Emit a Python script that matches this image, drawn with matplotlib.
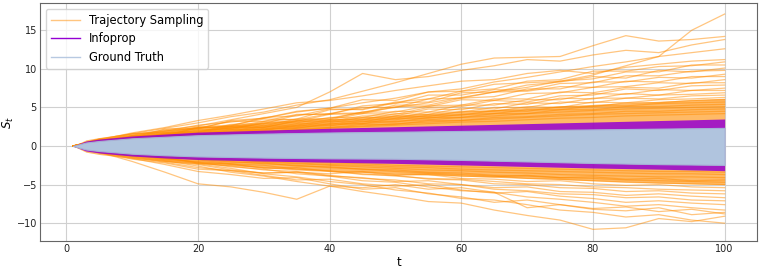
import matplotlib
matplotlib.use("Agg")
import matplotlib.pyplot as plt
import numpy as np

# time grid for the envelopes of the dense bands
t_env = [1, 3, 5, 10, 15, 20, 30, 40, 50, 60, 70, 80, 90, 100]

# ground truth band (edges)
gt_upper = [0, 0.45, 0.65, 1.0, 1.2, 1.4, 1.6, 1.75, 1.85, 1.95, 2.05, 2.15, 2.25, 2.35]
gt_lower = [0, -0.45, -0.65, -1.0, -1.2, -1.35, -1.5, -1.6, -1.65, -1.8, -2.0, -2.2, -2.35, -2.45]

# infoprop band, outer edges
ip_upper = [0, 0.65, 0.9, 1.3, 1.55, 1.8, 2.05, 2.3, 2.5, 2.7, 2.9, 3.1, 3.3, 3.5]
ip_lower = [0, -0.65, -0.9, -1.3, -1.55, -1.75, -1.95, -2.1, -2.25, -2.45, -2.65, -2.85, -3.0, -3.2]

# dense core of the trajectory sampling lines
ts_core_upper = [0, 0.8, 1.1, 1.7, 2.1, 2.5, 3.0, 3.5, 4.0, 4.5, 5.0, 5.4, 5.8, 6.2]
ts_core_lower = [0, -0.8, -1.1, -1.6, -2.0, -2.3, -2.8, -3.2, -3.6, -3.9, -4.2, -4.5, -4.8, -5.0]

# individual trajectory sampling lines
t_ts = [1, 5, 10, 15, 20, 25, 30, 35, 40, 45, 50, 55, 60, 65, 70, 75, 80, 85, 90, 95, 100]

ts_up = [
    [0, 0.5, 1.0, 1.6, 2.0, 2.3, 2.9, 3.3, 3.6, 4.4, 5.0, 5.6, 6.3, 7.0, 7.6, 8.4, 9.2, 10.4, 11.6, 15.0, 17.1],
    [0, 0.9, 1.6, 2.3, 3.0, 3.8, 4.4, 5.3, 6.0, 7.1, 8.2, 9.4, 10.6, 11.4, 11.5, 11.6, 13.0, 14.3, 13.6, 13.8, 14.2],
    [0, 0.7, 1.4, 2.1, 2.6, 3.4, 4.2, 5.0, 7.0, 9.4, 8.6, 9.0, 9.8, 10.4, 11.2, 11.0, 11.8, 12.4, 12.1, 13.1, 13.8],
    [0, 0.6, 1.3, 1.9, 2.7, 3.1, 3.6, 4.4, 4.9, 5.6, 6.2, 7.0, 7.4, 8.3, 8.9, 9.6, 10.3, 10.9, 11.6, 12.1, 12.6],
    [0, 0.8, 1.7, 2.4, 3.3, 4.0, 4.8, 5.6, 5.9, 6.5, 7.2, 7.8, 8.4, 8.6, 9.4, 9.8, 9.4, 10.2, 10.6, 11.0, 11.2],
    [0, 0.4, 1.1, 1.3, 2.4, 2.5, 3.2, 3.5, 4.7, 4.8, 5.7, 6.1, 7.1, 7.4, 8.4, 8.6, 9.7, 9.7, 10.3, 10.4, 10.9],
    [0, 0.8, 1.0, 2.0, 2.2, 3.3, 3.6, 4.5, 4.9, 6.0, 5.9, 7.0, 7.1, 8.0, 8.2, 8.4, 8.7, 9.6, 9.6, 10.5, 10.5],
    [0, 0.5, 1.3, 1.4, 2.3, 2.6, 3.7, 3.9, 4.8, 4.7, 5.6, 5.7, 6.9, 7.0, 7.9, 8.3, 9.0, 8.8, 9.8, 9.6, 10.1],
    [0, 0.7, 1.1, 2.2, 2.3, 3.2, 3.2, 4.1, 4.1, 5.2, 5.5, 6.6, 6.6, 7.3, 7.2, 8.1, 8.2, 9.1, 9.1, 9.7, 9.8],
    [0, 0.6, 1.6, 1.7, 2.5, 2.7, 3.5, 3.4, 4.2, 4.3, 5.3, 5.3, 6.2, 6.4, 7.4, 7.4, 8.3, 8.3, 8.9, 8.8, 9.3],
    [0, 0.8, 0.8, 1.7, 1.8, 2.8, 2.9, 4.0, 4.2, 5.0, 5.0, 6.1, 6.2, 7.0, 7.1, 7.7, 7.6, 8.4, 8.3, 9.0, 9.0],
    [0, 0.3, 1.3, 1.5, 2.4, 2.3, 3.1, 3.2, 4.1, 4.2, 5.1, 5.1, 6.0, 5.9, 6.8, 6.9, 7.6, 7.7, 8.2, 8.1, 8.6],
    [0, 0.9, 1.0, 1.8, 1.8, 2.6, 2.6, 3.5, 3.5, 4.4, 4.4, 5.2, 5.3, 6.1, 6.1, 7.0, 6.9, 7.6, 7.5, 8.2, 8.2],
    [0, 0.6, 0.8, 1.6, 1.7, 2.5, 2.4, 3.3, 3.4, 4.2, 4.1, 5.0, 5.1, 5.9, 5.7, 6.5, 6.6, 7.4, 7.2, 7.8, 7.9],
    [0, 0.5, 1.2, 1.3, 2.1, 2.1, 3.0, 3.0, 3.7, 3.7, 4.5, 4.4, 5.3, 5.3, 6.0, 6.0, 6.8, 6.7, 7.3, 7.2, 7.5],
    [0, 0.8, 0.9, 1.5, 1.6, 2.4, 2.4, 3.2, 3.2, 3.9, 3.9, 4.8, 4.7, 5.5, 5.4, 6.2, 6.1, 6.8, 6.6, 7.2, 7.2],
    [0, 0.4, 1.1, 1.2, 1.9, 1.9, 2.7, 2.7, 3.4, 3.4, 4.2, 4.1, 4.9, 4.8, 5.6, 5.5, 6.2, 6.2, 6.6, 6.7, 6.9],
    [0, 0.7, 0.8, 1.5, 1.5, 2.2, 2.2, 2.9, 3.0, 3.7, 3.6, 4.4, 4.4, 5.0, 5.0, 5.7, 5.6, 6.2, 6.1, 6.5, 6.6],
    [0, 0.5, 1.0, 1.1, 1.7, 1.8, 2.5, 2.5, 3.2, 3.1, 3.9, 3.8, 4.5, 4.5, 5.1, 5.0, 5.7, 5.6, 6.0, 6.1, 6.3],
    [0, 0.6, 0.9, 1.4, 1.5, 2.1, 2.1, 2.7, 2.8, 3.4, 3.4, 4.0, 4.0, 4.6, 4.5, 5.1, 5.1, 5.6, 5.6, 5.9, 6.0],
    [0, 0.4, 0.9, 1.0, 1.6, 1.6, 2.3, 2.3, 2.9, 2.9, 3.6, 3.6, 4.1, 4.2, 4.7, 4.7, 5.2, 5.2, 5.5, 5.6, 5.7],
    [0, 0.7, 0.8, 1.3, 1.4, 2.0, 2.0, 2.6, 2.6, 3.2, 3.1, 3.7, 3.7, 4.2, 4.2, 4.7, 4.7, 5.1, 5.1, 5.3, 5.4],
    [0, 0.5, 0.9, 1.2, 1.5, 1.8, 2.1, 2.4, 2.7, 2.9, 3.2, 3.4, 3.7, 3.9, 4.2, 4.4, 4.6, 4.8, 4.9, 5.0, 5.1],
    [0, 0.6, 0.7, 1.2, 1.3, 1.8, 1.8, 2.3, 2.4, 2.8, 2.8, 3.3, 3.3, 3.7, 3.8, 4.1, 4.2, 4.5, 4.5, 4.7, 4.8],
    [0, 0.4, 0.8, 1.0, 1.3, 1.6, 1.9, 2.1, 2.4, 2.6, 2.9, 3.1, 3.3, 3.5, 3.7, 3.9, 4.1, 4.2, 4.3, 4.4, 4.5],
    [0, 0.6, 0.8, 1.1, 1.4, 1.6, 1.9, 2.1, 2.3, 2.5, 2.7, 2.9, 3.1, 3.2, 3.4, 3.6, 3.7, 3.9, 4.0, 4.1, 4.2],
]

ts_lo = [
    [0, -0.8, -2.0, -3.4, -4.9, -5.3, -6.0, -6.9, -5.2, -5.4, -5.0, -5.6, -5.4, -6.0, -8.0, -7.6, -8.2, -8.4, -8.0, -8.9, -8.6],
    [0, -0.6, -1.3, -1.9, -2.6, -3.4, -3.9, -4.6, -5.2, -5.9, -6.5, -7.2, -7.4, -8.3, -9.0, -9.6, -10.8, -10.6, -9.4, -9.8, -9.1],
    [0, -0.5, -1.1, -1.8, -2.3, -2.9, -3.6, -4.0, -4.6, -5.0, -5.7, -6.1, -6.8, -7.0, -7.6, -8.3, -8.6, -9.2, -8.9, -9.6, -10.0],
    [0, -0.7, -1.6, -2.4, -3.3, -3.7, -4.2, -4.1, -4.9, -5.6, -5.4, -6.2, -6.6, -7.3, -7.0, -7.6, -8.1, -7.9, -8.5, -8.2, -8.8],
    [0, -0.4, -1.0, -1.6, -2.1, -2.7, -3.0, -3.6, -3.9, -4.5, -4.7, -5.3, -5.8, -6.0, -6.6, -6.9, -7.3, -7.8, -7.6, -8.0, -8.3],
    [0, -0.9, -1.7, -2.2, -3.0, -3.2, -3.8, -4.4, -4.3, -4.9, -5.2, -5.0, -5.7, -6.1, -5.9, -6.5, -6.8, -7.3, -7.1, -7.4, -7.6],
    [0, -0.5, -1.2, -1.5, -2.2, -2.6, -3.1, -3.3, -3.8, -4.2, -4.4, -4.9, -5.0, -5.6, -5.8, -6.2, -6.3, -6.7, -6.6, -7.0, -7.1],
    [0, -0.6, -1.4, -2.0, -2.4, -3.1, -3.5, -3.4, -3.9, -4.1, -4.6, -4.5, -5.0, -5.4, -5.3, -5.9, -6.0, -6.4, -6.2, -6.5, -6.7],
    [0, -0.3, -0.9, -1.4, -1.8, -2.3, -2.5, -3.0, -3.2, -3.7, -3.8, -4.3, -4.4, -4.9, -5.0, -5.4, -5.5, -5.9, -5.8, -6.1, -6.2],
    [0, -0.7, -1.1, -1.7, -2.0, -2.4, -2.8, -3.1, -3.3, -3.6, -3.9, -4.2, -4.3, -4.6, -4.9, -5.0, -5.3, -5.4, -5.6, -5.7, -5.8],
    [0, -0.5, -1.3, -1.6, -2.2, -2.3, -2.9, -2.8, -3.3, -3.4, -3.8, -3.7, -4.2, -4.3, -4.6, -4.5, -4.9, -5.1, -5.0, -5.3, -5.4],
    [0, -0.4, -0.8, -1.3, -1.6, -2.0, -2.3, -2.5, -2.8, -3.0, -3.3, -3.5, -3.7, -3.9, -4.2, -4.3, -4.5, -4.7, -4.8, -4.9, -5.0],
    [0, -0.6, -1.0, -1.5, -1.7, -2.1, -2.2, -2.6, -2.7, -3.0, -3.1, -3.4, -3.5, -3.8, -3.9, -4.1, -4.2, -4.4, -4.5, -4.6, -4.7],
    [0, -0.8, -1.5, -2.1, -2.8, -3.2, -3.5, -3.4, -3.6, -3.3, -3.7, -3.6, -3.9, -4.0, -3.8, -4.1, -4.0, -4.3, -4.2, -4.5, -4.4],
    [0, -0.5, -0.9, -1.2, -1.6, -1.8, -2.1, -2.3, -2.5, -2.7, -2.9, -3.1, -3.2, -3.4, -3.5, -3.7, -3.8, -3.9, -4.0, -4.0, -4.1],
    [0, -0.6, -1.0, -1.3, -1.5, -1.8, -2.0, -2.2, -2.4, -2.5, -2.7, -2.8, -3.0, -3.1, -3.2, -3.3, -3.4, -3.5, -3.6, -3.6, -3.7],
    [0, -0.5, -0.8, -1.1, -1.4, -1.6, -1.8, -2.0, -2.2, -2.3, -2.5, -2.6, -2.7, -2.8, -2.9, -3.0, -3.1, -3.2, -3.3, -3.3, -3.4],
]

ts_color = "darkorange"
ip_color = "darkviolet"
gt_color = "lightsteelblue"

fig = plt.figure(figsize=(7.61, 2.71), dpi=100)
ax = fig.add_axes([0.053, 0.111, 0.942, 0.877])

# trajectory sampling
ax.fill_between(t_env, ts_core_lower, ts_core_upper, color=ts_color, alpha=0.6, lw=0, zorder=2)
for y in ts_up + ts_lo:
    ax.plot(t_ts, y, color=ts_color, alpha=0.5, lw=0.9, zorder=2)

# infoprop
ax.fill_between(t_env, gt_upper, ip_upper, color=ip_color, alpha=0.85, lw=0, zorder=3)
ax.fill_between(t_env, ip_lower, gt_lower, color=ip_color, alpha=0.85, lw=0, zorder=3)

# ground truth
ax.fill_between(t_env, gt_lower, gt_upper, color=gt_color, lw=0.8, edgecolor="#a4afd8", zorder=4)

# legend handles
ax.plot([], [], color=ts_color, alpha=0.5, lw=1, label="Trajectory Sampling")
ax.plot([], [], color=ip_color, lw=1, label="Infoprop")
ax.plot([], [], color=gt_color, alpha=0.9, lw=1, label="Ground Truth")
ax.legend(loc="upper left", fontsize=8.3, handlelength=2.5, borderaxespad=0.5)

ax.set_xlim(-3.95, 104.95)
ax.set_ylim(-12.3, 18.5)
ax.set_yticks([-10, -5, 0, 5, 10, 15])
ax.grid(True, color="#d0d0d0", lw=0.8)
ax.set_axisbelow(True)
ax.tick_params(length=0, labelsize=7, pad=2.5, colors="#222222")
for s in ax.spines.values():
    s.set_color("#666666")
ax.set_xlabel("t", fontsize=8.5, labelpad=1)
ax.set_ylabel("$S_t$", fontsize=8.5, labelpad=0)

fig.savefig("out.png", dpi=100)
